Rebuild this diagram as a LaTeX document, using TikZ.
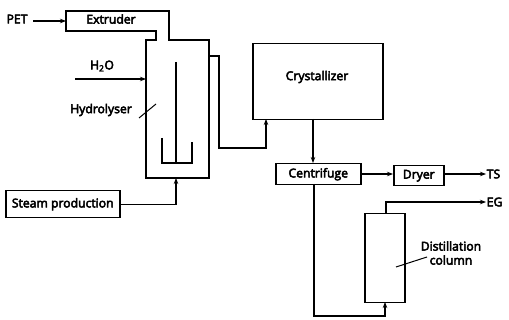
\documentclass[tikz,border=0pt]{standalone}
\usepackage{fontspec}
\setmainfont{Open Sans}[FakeBold=4]
\usetikzlibrary{arrows.meta,calc}
\begin{document}
\begin{tikzpicture}[x=1pt,y=-1pt,line width=1.5pt,
  box/.style={draw,line width=1.5pt,anchor=north west,inner sep=0pt},
  lbl/.style={inner sep=0pt,font=\fontsize{12.2}{14}\selectfont},
  arr/.style={-{Stealth[length=6pt,width=4.5pt]}},
  flow/.style={line width=1.4pt}]
\useasboundingbox (0,0) rectangle (509,320);
% unit outlines
\draw[line width=1.5pt] (66,11) -- (169,11) -- (169,40) -- (209,40) -- (209,178) -- (146,178) -- (146,40) -- (156,40) -- (156,31) -- (66,31) -- cycle;
\node[lbl] (extruder) at (111,19) {Extruder};
\coordinate (extin) at (66,21);
\coordinate (hydin) at (146,79);
\coordinate (hydbot) at (176,178);
\coordinate (hydout) at (209,56);
% hydrolyser internals
\draw[flow] (176,62) -- (176,163);
\draw[flow] (162,138) -- (162,163) -- (192,163) -- (192,142);
\node[lbl] (hydlbl) at (101,110) {Hydrolyser};
\coordinate (hydlead) at (156,104);
\draw[line width=1pt] (139,118) -- (hydlead);
% feeds
\node[lbl] (pet) at (17,19) {PET};
\draw[flow,arr] (33,21) -- (extin);
\node[lbl] (water) at (102,66) {H\textsubscript{2}O};
\coordinate (win) at (75,79);
\draw[flow,arr] (win) -- (hydin);
\node[box,minimum width=114pt,minimum height=27pt] (steam) at (5,190) {};
\node[lbl] at (steam.center) {Steam production};
\draw[flow,arr] (steam.east) -| (hydbot);
% crystallizer
\node[box,minimum width=130pt,minimum height=76pt] (cryst) at (252,43) {};
\node[lbl] at (317,77) {Crystallizer};
\coordinate (cin) at (266,119);
\draw[flow,arr] (hydout) -- (219,56) -- (219,148) -| (cin);
% centrifuge
\node[box,minimum width=85pt,minimum height=21pt] (cent) at (275,163) {};
\node[lbl] at (cent.center) {Centrifuge};
\draw[flow,arr] (313,119) -- (313,163);
% dryer
\node[box,minimum width=50pt,minimum height=20pt] (dryer) at (393,165) {};
\node[lbl] at (dryer.center) {Dryer};
\draw[flow,arr] (cent.east |- 0,174) -- (dryer.west |- 0,174);
\node[lbl,anchor=west] (ts) at (486,174) {TS};
\draw[flow,arr] (dryer.east |- 0,174) -- (ts.west);
% distillation column
\node[box,minimum width=40pt,minimum height=89pt] (col) at (364,213) {};
\node[lbl,anchor=west] (eg) at (486,202) {EG};
\draw[flow,arr] (386,213) -- (386,202) -- (eg.west);
\draw[flow,arr] (314,184) -- (314,316) -- (385,316) -- (385,302);
\node[lbl,align=center] (collbl) at (451,253) {Distillation\\column};
\draw[line width=1pt] (396,267) -- (427,257);
\end{tikzpicture}
\end{document}
